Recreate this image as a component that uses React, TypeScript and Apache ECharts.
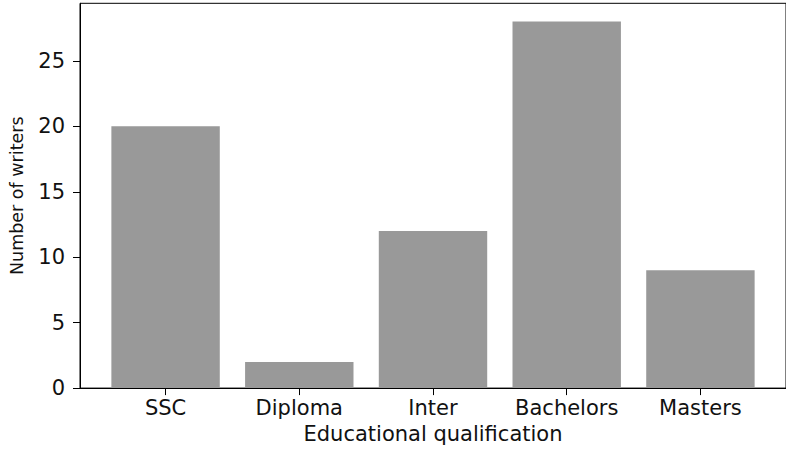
import React, { useEffect, useRef } from "react";
import * as echarts from "echarts";

const categories = ["SSC", "Diploma", "Inter", "Bachelors", "Masters"];
const writers = [20, 2, 12, 28, 9];
const yTicks = [0, 5, 10, 15, 20, 25];

const W = 786;
const H = 449;
const FONT = "DejaVu Sans";

export default function App() {
  const ref = useRef<HTMLDivElement>(null);
  useEffect(() => {
    if (!ref.current) return;
    const chart = echarts.init(ref.current, undefined, { renderer: "svg" });
    const gridLeft = 77.5;
    const gridRight = -7;
    const xMin = -0.64;
    const xMax = categories.length - 1 + 0.64;
    const gridWidth = W - gridLeft - gridRight;
    const barWidth = (0.8 * gridWidth) / (xMax - xMin);
    chart.setOption({
      animation: false,
      backgroundColor: "#ffffff",
      grid: {
        left: gridLeft,
        right: gridRight,
        top: 3.3,
        bottom: 60,
        show: true,
        borderColor: "#000",
        borderWidth: 1,
        backgroundColor: "transparent",
      },
      xAxis: {
        type: "value",
        min: xMin,
        max: xMax,
        name: "Educational qualification",
        nameLocation: "middle",
        nameGap: 31,
        nameTextStyle: { fontFamily: FONT, fontSize: 21, color: "#111" },
        axisLine: { show: true, onZero: false, lineStyle: { color: "#000", width: 1 } },
        axisTick: {
          show: true,
          length: 7,
          customValues: categories.map((_, i) => i),
          lineStyle: { color: "#000", width: 1 },
        },
        axisLabel: {
          customValues: categories.map((_, i) => i),
          formatter: (v: number) => categories[Math.round(v)] ?? "",
          fontFamily: FONT,
          fontSize: 21,
          color: "#111",
          margin: 9,
        },
        splitLine: { show: false },
      },
      yAxis: {
        type: "value",
        min: 0,
        max: 29.4,
        interval: 5,
        name: "Number of writers",
        nameLocation: "middle",
        nameGap: 54,
        nameTextStyle: { fontFamily: FONT, fontSize: 17.5, color: "#111" },
        axisLine: { show: true, onZero: false, lineStyle: { color: "#000", width: 1 } },
        axisTick: {
          show: true,
          length: 7,
          customValues: yTicks,
          lineStyle: { color: "#000", width: 1 },
        },
        axisLabel: {
          customValues: yTicks,
          fontFamily: FONT,
          fontSize: 21,
          color: "#111",
          margin: 15,
        },
        splitLine: { show: false },
      },
      series: [
        {
          type: "bar",
          data: categories.map((_, i) => [i, writers[i]]),
          barWidth,
          itemStyle: { color: "#999999" },
        },
      ],
    });
    return () => chart.dispose();
  }, []);
  return (
    <div
      ref={ref}
      style={{ position: "fixed", left: 0, top: 0, width: W, height: H }}
    />
  );
}
